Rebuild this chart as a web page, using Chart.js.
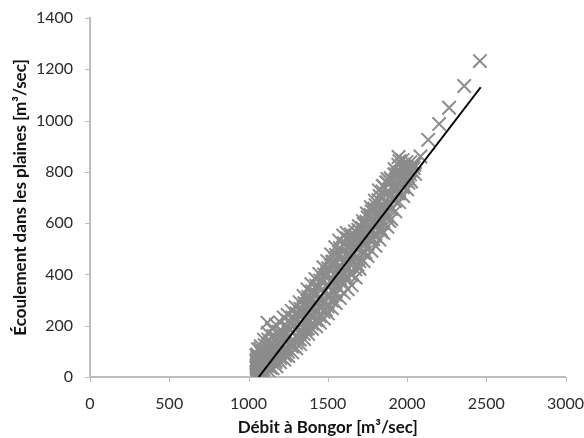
<!DOCTYPE html>
<html>
<head>
<meta charset="utf-8">
<style>
body { margin: 0; background: #fff; }
#wrap { width: 584px; height: 438px; }
</style>
<script src="https://cdn.jsdelivr.net/npm/chart.js@4"></script>
</head>
<body>
<div id="wrap"><canvas id="grafico" width="584" height="438"></canvas></div>
<script>
// valeurs
const debit = [
  1050,1054,1049,1056,1050,1052,1056,1051,1053,1055,1058,1055,1060,1053,1062,1057,1052,
  1074,1078,1071,1080,1076,1069,1083,1073,1101,1097,1104,1099,1106,1095,1102,1098,1120,
  1127,1123,1130,1121,1133,1125,1128,1152,1148,1155,1146,1150,1158,1153,1176,1172,1179,
  1170,1181,1174,1190,1201,1198,1204,1196,1207,1200,1203,1226,1222,1229,1220,1231,1224,
  1251,1247,1254,1245,1249,1257,1252,1276,1272,1279,1270,1274,1281,1277,1301,1297,1304,
  1295,1299,1307,1302,1326,1322,1329,1320,1324,1331,1327,1351,1347,1354,1345,1349,1357,
  1352,1376,1372,1379,1370,1374,1381,1377,1401,1397,1404,1395,1399,1407,1402,1426,1422,
  1429,1420,1424,1431,1427,1451,1447,1454,1445,1449,1457,1452,1476,1472,1479,1470,1474,
  1481,1477,1501,1497,1504,1495,1499,1507,1502,1526,1522,1529,1520,1524,1531,1527,1551,
  1547,1554,1545,1549,1557,1552,1576,1572,1579,1570,1574,1581,1577,1601,1597,1604,1595,
  1599,1607,1602,1620,1626,1622,1629,1624,1631,1627,1651,1647,1654,1645,1649,1657,1652,
  1676,1672,1679,1670,1674,1681,1677,1701,1697,1704,1695,1699,1707,1702,1726,1722,1729,
  1720,1724,1731,1727,1751,1747,1754,1745,1749,1757,1752,1776,1772,1779,1770,1774,1781,
  1777,1801,1797,1804,1795,1799,1807,1802,1826,1822,1829,1820,1824,1831,1827,1851,1847,
  1854,1845,1849,1857,1852,1876,1872,1879,1870,1874,1881,1877,1901,1897,1904,1895,1899,
  1907,1902,1926,1922,1929,1920,1924,1931,1927,1951,1947,1954,1945,1949,1957,1952,1976,
  1972,1979,1970,1974,1981,2001,1997,2004,1995,1999,2007,2026,2022,2029,2020,2051,2047,
  2085,2134,2203,2266,2361,2460,
  1063,1088,1112,1139,1163,1187,1214,1238,1262,1288,
  1313,1338,1363,1388,1412,1438,1463,1488,1513,1538,
  1563,1588,1612,1638,1663,1688,1713,1738,1763,1788,
  1813,1838,1863,1888,1913,1938,1963,1988,2012,2038,
  1068,1092,1117,1142,1168,1192,1218,1242,1268,1292,
  1318,1342,1368,1392,1418,1442,1468,1492,1518,1542,
  1568,1592,1618,1642,1668,1692,1718,1742,1768,1792,
  1818,1842,1868,1892,1918,1942,1968,1992,2016,2042,
  1084,1133,1183,1233,1283,1333,1383,1433,1483,1533,
  1583,1633,1683,1733,1783,1833,1883,1933,1983,2009
]
const ecoulement = [
  84,42,66,28,8,60,88,35,50,74,2,32,108,58,82,18,44,
  8,120,40,94,64,22,78,110,12,146,54,100,72,30,124,88,212,
  24,172,70,118,44,146,96,34,188,80,128,56,160,104,42,204,92,
  62,150,120,176,212,58,136,92,178,74,112,68,232,108,172,84,144,
  82,242,128,194,98,160,218,96,258,146,210,118,176,232,112,272,160,
  226,132,190,248,128,292,176,244,146,210,266,148,316,196,262,168,232,
  288,168,342,216,284,190,256,312,188,362,236,306,208,276,334,198,382,
  252,326,222,292,356,212,402,270,350,238,310,376,228,428,292,374,254,
  334,400,248,452,314,398,276,358,424,268,478,336,420,298,382,448,288,
  506,358,446,320,408,476,308,532,382,470,342,432,502,328,552,404,490,
  366,456,522,562,342,430,512,384,478,540,358,556,446,520,398,486,534,
  388,568,470,536,420,502,548,422,588,502,556,452,528,570,452,608,530,
  580,484,552,596,472,638,552,606,508,580,622,492,662,574,632,530,604,
  646,512,688,598,656,552,628,670,536,728,622,690,576,652,706,562,745,
  650,724,600,686,744,586,760,680,758,626,716,772,616,775,708,760,656,
  744,770,646,810,734,790,686,772,790,682,858,760,828,716,798,842,706,
  846,784,826,740,812,732,838,796,764,818,784,762,838,806,790,792,828,
  860,925,987,1050,1135,1232,
  70,48,98,36,112,66,158,108,186,120,
  148,206,186,238,276,222,300,262,372,296,
  416,368,438,406,524,438,548,486,566,538,
  586,566,632,608,694,716,772,812,796,820,
  16,86,44,98,58,122,94,196,136,228,
  170,250,222,330,246,352,288,396,318,436,
  378,468,418,510,462,574,518,600,542,654,
  600,666,642,704,744,792,768,802,770,815,
  26,72,134,162,204,184,302,322,294,450,
  396,482,528,560,644,576,676,746,780,758
]
const trendX = [1065, 2465]
const trendY = [0, 1130]

const xTicks = [0, 500, 1000, 1500, 2000, 2500, 3000]
const yTicks = [0, 200, 400, 600, 800, 1000, 1200, 1400]

const points = debit.map((d, i) => ({ x: d, y: ecoulement[i] }))
const trend = trendX.map((d, i) => ({ x: d, y: trendY[i] }))

const axisColor = "#bdbdbd"
const textColor = "#2b2b2b"
const family = "Lato, 'Open Sans', sans-serif"

// the scales inset themselves for the end labels, this cancels it
function sinMargen(axis) {
  axis.paddingLeft = 0
  axis.paddingRight = 0
  axis.paddingTop = 0
  axis.paddingBottom = 0
  axis._margins = { left: 0, right: 0, top: 0, bottom: 0 }
}

new Chart(document.getElementById("grafico").getContext("2d"), {
  type: "scatter",
  data: {
    datasets: [
      {
        data: trend,
        showLine: true,
        borderColor: "#000000",
        borderWidth: 2,
        pointRadius: 0,
        order: 0
      },
      {
        data: points,
        pointStyle: "crossRot",
        pointRadius: 9.5,
        pointBorderWidth: 2,
        pointBorderColor: "#8c8c8c",
        backgroundColor: "#8c8c8c",
        order: 1
      }
    ]
  },
  options: {
    responsive: false,
    animation: false,
    layout: { autoPadding: false, padding: { top: 18, right: 18.5, left: 10, bottom: 0 } },
    plugins: { legend: { display: false }, tooltip: { enabled: false } },
    scales: {
      x: {
        type: "linear",
        min: 0,
        max: 3000,
        afterBuildTicks: (axis) => { axis.ticks = xTicks.map(v => ({ value: v })) },
        afterFit: (axis) => { axis.height = 61; sinMargen(axis) },
        border: { color: axisColor, width: 2 },
        grid: { display: false, drawTicks: true, tickLength: 5 },
        ticks: { color: textColor, maxRotation: 0, padding: 12, font: { family: family, size: 16 }, callback: (v) => String(v) },
        title: { display: true, text: "Débit à Bongor [m³/sec]", color: "#111111", padding: { top: 3, bottom: 0 }, font: { family: family, size: 17, weight: "bold" } }
      },
      y: {
        type: "linear",
        min: 0,
        max: 1400,
        afterBuildTicks: (axis) => { axis.ticks = yTicks.map(v => ({ value: v })) },
        afterFit: (axis) => { axis.width = 80; sinMargen(axis) },
        border: { color: axisColor, width: 2 },
        grid: { display: false, drawTicks: true, tickLength: 5 },
        ticks: { color: textColor, padding: 12, font: { family: family, size: 16 }, callback: (v) => String(v) },
        title: { display: true, text: "Écoulement dans les plaines [m³/sec]", color: "#111111", padding: { top: 0, bottom: 2 }, font: { family: family, size: 17, weight: "bold" } }
      }
    }
  },
  plugins: [{
    // ticks only, no gridlines across the plot
    id: "marques",
    afterDraw(chart) {
      const ctx = chart.ctx
      const { x, y } = chart.scales
      ctx.save()
      ctx.strokeStyle = axisColor
      ctx.lineWidth = 1
      x.ticks.forEach(t => {
        const px = Math.round(x.getPixelForValue(t.value)) + 0.5
        ctx.beginPath(); ctx.moveTo(px, y.bottom); ctx.lineTo(px, y.bottom + 5); ctx.stroke()
      })
      y.ticks.forEach(t => {
        const py = Math.round(y.getPixelForValue(t.value)) + 0.5
        ctx.beginPath(); ctx.moveTo(x.left - 5, py); ctx.lineTo(x.left, py); ctx.stroke()
      })
      ctx.restore()
    }
  }]
})
</script>
</body>
</html>
